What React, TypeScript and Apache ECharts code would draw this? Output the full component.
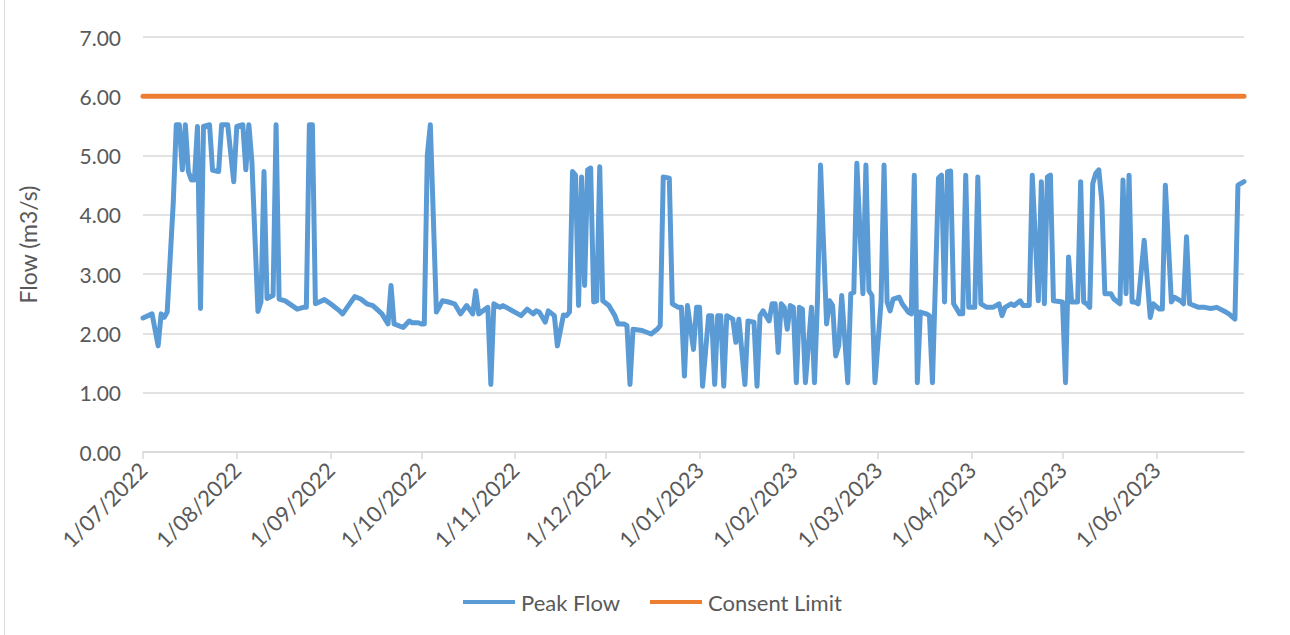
import React, { useEffect, useRef } from "react";
import * as echarts from "echarts";

const dates: string[] = [
  "2022-07-01","2022-07-04","2022-07-06","2022-07-07","2022-07-08","2022-07-09","2022-07-11","2022-07-12","2022-07-13","2022-07-14",
  "2022-07-15","2022-07-16","2022-07-17","2022-07-18","2022-07-19","2022-07-20","2022-07-21","2022-07-23","2022-07-24","2022-07-26",
  "2022-07-27","2022-07-29","2022-07-31","2022-08-01","2022-08-03","2022-08-04","2022-08-05","2022-08-06","2022-08-08","2022-08-09",
  "2022-08-10","2022-08-11","2022-08-13","2022-08-14","2022-08-15","2022-08-17","2022-08-21","2022-08-23","2022-08-24","2022-08-25",
  "2022-08-26","2022-08-27","2022-08-30","2022-09-01","2022-09-04","2022-09-05","2022-09-09","2022-09-11","2022-09-13","2022-09-15",
  "2022-09-18","2022-09-20","2022-09-21","2022-09-22","2022-09-25","2022-09-27","2022-09-28","2022-09-30","2022-10-01","2022-10-02",
  "2022-10-03","2022-10-04","2022-10-06","2022-10-08","2022-10-10","2022-10-12","2022-10-14","2022-10-16","2022-10-18","2022-10-19",
  "2022-10-20","2022-10-23","2022-10-24","2022-10-25","2022-10-27","2022-10-28","2022-11-03","2022-11-05","2022-11-07","2022-11-08",
  "2022-11-09","2022-11-11","2022-11-12","2022-11-14","2022-11-15","2022-11-17","2022-11-18","2022-11-19","2022-11-20","2022-11-21",
  "2022-11-22","2022-11-23","2022-11-24","2022-11-25","2022-11-26","2022-11-27","2022-11-28","2022-11-29","2022-11-30","2022-12-02",
  "2022-12-04","2022-12-05","2022-12-07","2022-12-08","2022-12-09","2022-12-10","2022-12-13","2022-12-16","2022-12-18","2022-12-19",
  "2022-12-20","2022-12-22","2022-12-23","2022-12-25","2022-12-26","2022-12-27","2022-12-28","2022-12-30","2022-12-31","2023-01-01",
  "2023-01-02","2023-01-04","2023-01-05","2023-01-06","2023-01-07","2023-01-08","2023-01-09","2023-01-10","2023-01-12","2023-01-13",
  "2023-01-14","2023-01-16","2023-01-17","2023-01-19","2023-01-20","2023-01-21","2023-01-22","2023-01-24","2023-01-25","2023-01-26",
  "2023-01-27","2023-01-28","2023-01-29","2023-01-30","2023-01-31","2023-02-01","2023-02-02","2023-02-03","2023-02-04","2023-02-05",
  "2023-02-07","2023-02-08","2023-02-09","2023-02-10","2023-02-12","2023-02-13","2023-02-14","2023-02-15","2023-02-16","2023-02-17",
  "2023-02-19","2023-02-20","2023-02-21","2023-02-22","2023-02-24","2023-02-25","2023-02-26","2023-02-27","2023-02-28","2023-03-02",
  "2023-03-03","2023-03-04","2023-03-05","2023-03-06","2023-03-08","2023-03-09","2023-03-11","2023-03-12","2023-03-13","2023-03-14",
  "2023-03-15","2023-03-17","2023-03-18","2023-03-19","2023-03-21","2023-03-22","2023-03-23","2023-03-24","2023-03-25","2023-03-26",
  "2023-03-28","2023-03-29","2023-03-30","2023-03-31","2023-04-02","2023-04-03","2023-04-04","2023-04-06","2023-04-08","2023-04-10",
  "2023-04-11","2023-04-12","2023-04-14","2023-04-15","2023-04-17","2023-04-18","2023-04-20","2023-04-21","2023-04-23","2023-04-24",
  "2023-04-25","2023-04-26","2023-04-27","2023-04-28","2023-05-01","2023-05-02","2023-05-03","2023-05-04","2023-05-06","2023-05-07",
  "2023-05-08","2023-05-09","2023-05-10","2023-05-11","2023-05-12","2023-05-13","2023-05-14","2023-05-15","2023-05-17","2023-05-18",
  "2023-05-20","2023-05-21","2023-05-22","2023-05-23","2023-05-24","2023-05-25","2023-05-26","2023-05-28","2023-05-30","2023-05-31",
  "2023-06-02","2023-06-03","2023-06-04","2023-06-06","2023-06-07","2023-06-09","2023-06-10","2023-06-11","2023-06-12","2023-06-15",
  "2023-06-17","2023-06-19","2023-06-21","2023-06-24","2023-06-25","2023-06-27","2023-06-28","2023-06-29","2023-06-30"
];

const peakFlow: number[] = [
  2.26,2.33,1.79,2.33,2.27,2.36,4.2,5.52,5.52,4.76,
  5.52,4.73,4.59,4.59,5.49,2.42,5.49,5.52,4.75,4.73,
  5.52,5.52,4.56,5.49,5.52,4.76,5.52,4.9,2.37,2.53,
  4.73,2.59,2.64,5.52,2.58,2.55,2.41,2.44,2.44,5.52,
  5.52,2.5,2.57,2.5,2.38,2.33,2.62,2.58,2.5,2.47,
  2.33,2.16,2.81,2.16,2.1,2.21,2.18,2.18,2.16,2.16,
  5.01,5.52,2.36,2.55,2.53,2.5,2.33,2.47,2.33,2.72,
  2.33,2.44,1.14,2.5,2.44,2.47,2.3,2.41,2.33,2.38,
  2.36,2.19,2.38,2.3,1.79,2.31,2.3,2.36,4.73,4.67,
  2.47,4.64,2.81,4.76,4.79,2.53,2.55,4.81,2.55,2.47,
  2.3,2.16,2.16,2.13,1.14,2.07,2.05,1.99,2.07,2.13,
  4.64,4.62,2.5,2.44,2.44,1.28,2.47,1.73,2.44,2.44,
  1.11,2.3,2.3,1.14,2.3,2.3,1.11,2.3,2.24,1.85,
  2.24,1.14,2.21,2.19,1.11,2.3,2.38,2.21,2.5,2.5,
  1.68,2.5,2.44,2.07,2.47,2.44,1.17,2.44,2.41,1.17,
  2.44,1.17,2.58,4.84,2.16,2.55,2.47,1.62,1.79,2.64,
  1.17,2.67,2.69,4.87,2.67,4.84,2.72,2.64,1.17,2.53,
  4.84,2.53,2.38,2.58,2.61,2.5,2.36,2.33,4.67,1.17,
  2.36,2.33,2.3,1.17,4.62,4.67,2.53,4.73,4.74,2.5,
  2.33,2.33,4.67,2.44,2.44,4.64,2.5,2.44,2.44,2.5,
  2.3,2.44,2.5,2.47,2.55,2.47,2.47,4.67,2.55,4.56,
  2.5,4.64,4.67,2.55,2.53,1.17,3.29,2.53,2.53,4.56,
  2.53,2.5,2.44,4.53,4.7,4.76,4.22,2.67,2.67,2.58,
  2.5,4.59,2.67,4.67,2.53,2.53,2.5,3.57,2.27,2.5,
  2.41,2.41,4.5,2.53,2.61,2.55,2.5,3.63,2.5,2.44,
  2.44,2.42,2.44,2.36,2.33,2.24,4.5,4.53,4.56
];

const consentDates: string[] = ["2022-07-01", "2023-06-30"];
const consentLimit: number[] = [6, 6];

const FONT = "Lato, 'Open Sans', sans-serif";
const TEXT = "#595959";
const GRID = "#d9d9d9";

export default function App() {
  const ref = useRef<HTMLDivElement>(null);
  useEffect(() => {
    if (!ref.current) return;
    const chart = echarts.init(ref.current, undefined, { renderer: "svg" });
    const pad = (n: number) => (n < 10 ? "0" + n : "" + n);
    chart.setOption({
      animation: false,
      backgroundColor: "#ffffff",
      textStyle: { fontFamily: FONT },
      graphic: [
        {
          type: "line",
          shape: { x1: 4.5, y1: 0, x2: 4.5, y2: 635 },
          style: { stroke: GRID, lineWidth: 1 },
          silent: true,
        },
      ],
      grid: { left: 143, right: 46, top: 37, bottom: 183, containLabel: false },
      legend: {
        left: 458,
        top: 586,
        icon: "rect",
        itemWidth: 52,
        itemHeight: 4,
        itemGap: 30,
        textStyle: { color: TEXT, fontSize: 22, fontFamily: FONT, padding: [0, 0, 0, 1] },
        data: ["Peak Flow", "Consent Limit"],
      },
      xAxis: {
        type: "time",
        min: "2022-07-01",
        max: "2023-06-30",
        splitNumber: 12,
        minInterval: 28 * 86400000,
        maxInterval: 31 * 86400000,
        axisLine: { show: true, lineStyle: { color: GRID, width: 1.5 } },
        axisTick: { show: true, length: 7, lineStyle: { color: GRID, width: 1.5 } },
        splitLine: { show: false },
        axisLabel: {
          rotate: 45,
          margin: 14,
          color: TEXT,
          fontSize: 22,
          fontFamily: FONT,
          hideOverlap: false,
          formatter: (v: number) => {
            const d = new Date(v);
            return `${d.getDate()}/${pad(d.getMonth() + 1)}/${d.getFullYear()}`;
          },
        },
      },
      yAxis: {
        type: "value",
        min: 0,
        max: 7,
        interval: 1,
        name: "Flow (m3/s)",
        nameLocation: "middle",
        nameGap: 104,
        nameRotate: 90,
        nameTextStyle: { color: TEXT, fontSize: 23, fontFamily: FONT },
        axisLine: { show: false },
        axisTick: { show: false },
        splitLine: { show: true, lineStyle: { color: GRID, width: 1.5 } },
        axisLabel: {
          color: TEXT,
          fontSize: 21,
          fontFamily: FONT,
          margin: 22,
          formatter: (v: number) => v.toFixed(2),
        },
      },
      series: [
        {
          name: "Peak Flow",
          type: "line",
          data: dates.map((d, i) => [d, peakFlow[i]]),
          symbol: "none",
          lineStyle: { color: "#5b9bd5", width: 5, join: "round", cap: "round" },
          itemStyle: { color: "#5b9bd5" },
          z: 3,
        },
        {
          name: "Consent Limit",
          type: "line",
          data: consentDates.map((d, i) => [d, consentLimit[i]]),
          symbol: "none",
          lineStyle: { color: "#ed7d31", width: 5, cap: "round" },
          itemStyle: { color: "#ed7d31" },
          z: 2,
        },
      ],
    });
    return () => chart.dispose();
  }, []);
  return (
    <div
      ref={ref}
      style={{ position: "fixed", left: 0, top: 0, width: 1290, height: 635, background: "#fff" }}
    />
  );
}
